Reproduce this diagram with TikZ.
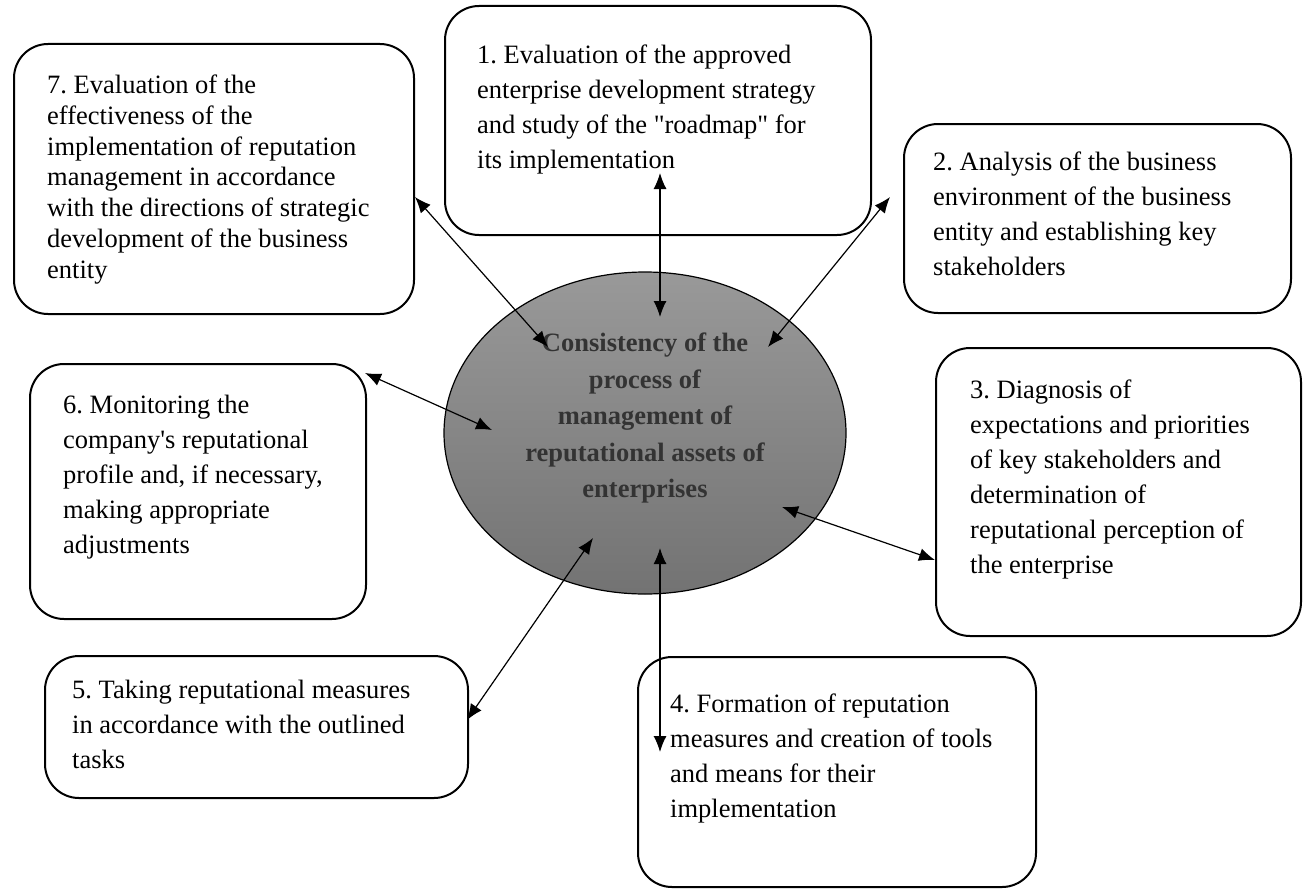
\documentclass[tikz,border=0pt]{standalone}
\usepackage{fontspec}
\setmainfont{Liberation Serif}
\usetikzlibrary{positioning,arrows.meta,shapes.geometric,calc}
\frenchspacing

\begin{document}
\begin{tikzpicture}[
    x=1pt, y=-1pt,
    stagebox/.style={rectangle, draw=black, line width=2pt, fill=white,
        rounded corners=34pt, anchor=north west, inner sep=0pt},
    stagetext/.style={anchor=north west, align=left, inner sep=0pt,
        font=\fontsize{26.5}{35}\selectfont},
    core/.style={ellipse, draw=black, line width=1.2pt,
        top color=black!40, bottom color=black!55,
        minimum width=402pt, minimum height=322pt, inner sep=0pt},
    coretext/.style={align=center, inner sep=0pt, text=black!80,
        font=\fontsize{26.5}{36.5}\selectfont\bfseries},
    link/.style={{Latex[length=16pt,width=13pt]}-{Latex[length=16pt,width=13pt]},
        line width=1.2pt}
]
\useasboundingbox (0,0) rectangle (1305,891);

% Central ellipse
\node[core] (core) at (645,433) {};
\node[coretext] (coretxt) at ($(core.center)+(0,-15)$)
    {Consistency of the\\process of\\management of\\reputational assets of\\enterprises};

% Stages around it
\node[stagebox, minimum width=426pt, minimum height=229pt] (s1) at (444,5) {};
\node[stagetext] (t1) at ($(s1.north west)+(33,40)$)
    {1. Evaluation of the approved\\enterprise development strategy\\and study of the \textquotedbl roadmap\textquotedbl{} for\\its implementation};

\node[stagebox, minimum width=387pt, minimum height=189pt] (s2) at (903,123) {};
\node[stagetext] (t2) at ($(s2.north west)+(30,29)$)
    {2. Analysis of the business\\environment of the business\\entity and establishing key\\stakeholders};

\node[stagebox, minimum width=365pt, minimum height=288pt] (s3) at (935,347) {};
\node[stagetext] (t3) at ($(s3.north west)+(35,33)$)
    {3. Diagnosis of\\expectations and priorities\\of key stakeholders and\\determination of\\reputational perception of\\the enterprise};

\node[stagebox, minimum width=398pt, minimum height=230pt] (s4) at (637,656) {};
\node[stagetext] (t4) at ($(s4.north west)+(33,38)$)
    {4. Formation of reputation\\measures and creation of tools\\and means for their\\implementation};

\node[stagebox, minimum width=423pt, minimum height=142pt] (s5) at (44,655) {};
\node[stagetext] (t5) at ($(s5.north west)+(28,25)$)
    {5. Taking reputational measures\\in accordance with the outlined\\tasks};

\node[stagebox, minimum width=336pt, minimum height=255pt] (s6) at (29,363) {};
\node[stagetext] (t6) at ($(s6.north west)+(34,32)$)
    {6. Monitoring the\\company\textquotesingle s reputational\\profile and, if necessary,\\making appropriate\\adjustments};

\node[stagebox, minimum width=400pt, minimum height=270pt] (s7) at (13,43) {};
\node[stagetext, font=\fontsize{26.5}{30.7}\selectfont] (t7) at ($(s7.north west)+(34,32)$)
    {7. Evaluation of the\\effectiveness of the\\implementation of reputation\\management in accordance\\with the directions of strategic\\development of the business\\entity};

% Arrow ends
\coordinate (e1) at (660,317);  \coordinate (b1) at (660,173);
\coordinate (e2) at (768,347);  \coordinate (b2) at (890,197);
\coordinate (e3) at (782,507);  \coordinate (b3) at (935,560);
\coordinate (e4) at (660,548);  \coordinate (b4) at (660,752);
\coordinate (e5) at (593,538);  \coordinate (b5) at (467,720);
\coordinate (e6) at (492,430);  \coordinate (b6) at (365,373);
\coordinate (e7) at (548,347);  \coordinate (b7) at (415,197);

% Arrows
\draw[link] (b1) -- (e1);
\draw[link] (b2) -- (e2);
\draw[link] (b3) -- (e3);
\draw[link] (e4) -- (b4);
\draw[link] (b5) -- (e5);
\draw[link] (b6) -- (e6);
\draw[link] (b7) -- (e7);

\end{tikzpicture}
\end{document}
